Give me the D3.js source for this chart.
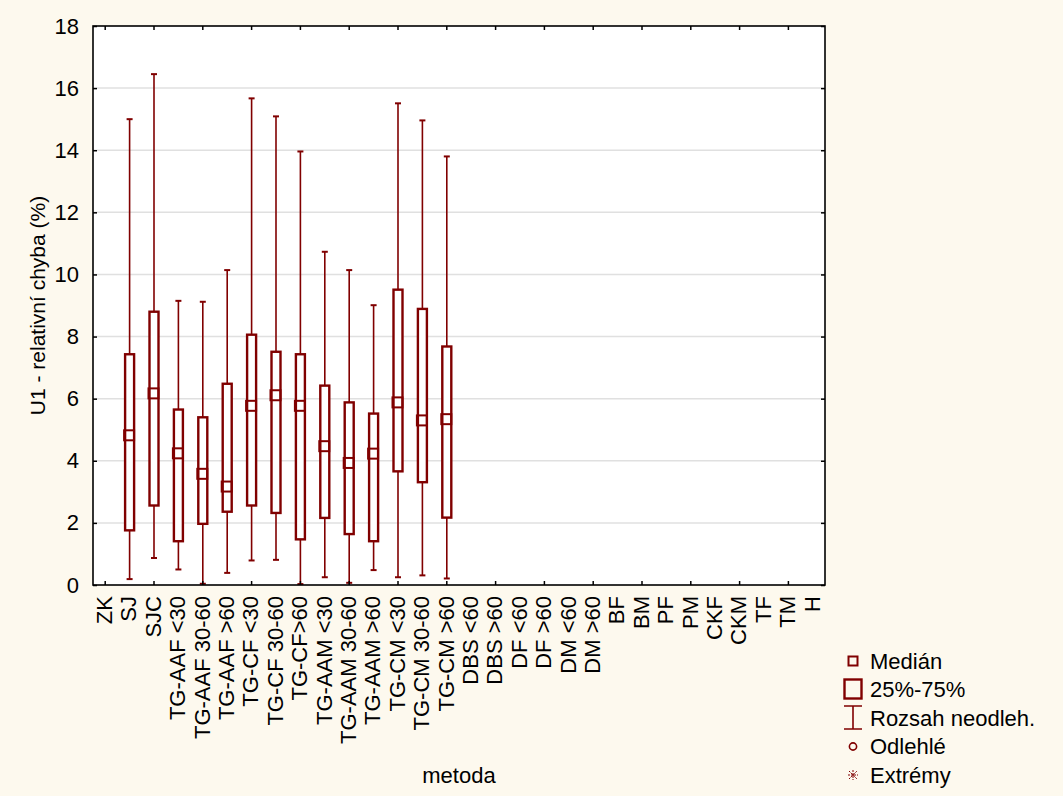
<!DOCTYPE html>
<html>
<head>
<meta charset="utf-8">
<script src="https://cdn.jsdelivr.net/npm/d3@7"></script>
<style>
  html, body { margin: 0; padding: 0; background: #fdf9ee; }
  svg { display: block; }
  text { font-family: "Liberation Sans", Arial, sans-serif; fill: #000; }
</style>
</head>
<body>
<svg id="chart" width="1063" height="796"></svg>
<script>
// Methods on the category axis
const categories = [
  "ZK", "SJ", "SJC",
  "TG-AAF <30", "TG-AAF 30-60", "TG-AAF >60",
  "TG-CF <30", "TG-CF 30-60", "TG-CF>60",
  "TG-AAM <30", "TG-AAM 30-60", "TG-AAM >60",
  "TG-CM <30", "TG-CM 30-60", "TG-CM >60",
  "DBS <60", "DBS >60", "DF <60", "DF >60", "DM <60", "DM >60",
  "BF", "BM", "PF", "PM", "CKF", "CKM", "TF", "TM", "H"
];

// Box statistics per method (null = no data)
const rangeLow  = [null, 0.19, 0.87, 0.50, 0.04, 0.39, 0.79, 0.81, 0.03, 0.25, 0.07, 0.48, 0.25, 0.31, 0.21];
const quart25   = [null, 1.76, 2.56, 1.41, 1.97, 2.36, 2.56, 2.32, 1.47, 2.16, 1.64, 1.41, 3.66, 3.31, 2.17];
const medians   = [null, 4.82, 6.17, 4.24, 3.58, 3.17, 5.77, 6.11, 5.77, 4.47, 3.93, 4.23, 5.88, 5.30, 5.34];
const quart75   = [null, 7.43, 8.80, 5.65, 5.40, 6.48, 8.06, 7.51, 7.43, 6.42, 5.88, 5.52, 9.51, 8.89, 7.68];
const rangeHigh = [null, 15.00, 16.45, 9.15, 9.12, 10.14, 15.67, 15.09, 13.96, 10.73, 10.14, 9.01, 15.51, 14.96, 13.80];

const yTicks = [0, 2, 4, 6, 8, 10, 12, 14, 16, 18];
const legendItems = ["Medián", "25%-75%", "Rozsah neodleh.", "Odlehlé", "Extrémy"];

const RED = "#800000";
const FONT = "22px";
const svg = d3.select("#chart");
const plot = { left: 93, right: 825, top: 26, bottom: 585 };

const x = d3.scaleBand().domain(categories).range([plot.left, plot.right]);
const y = d3.scaleLinear().domain([0, 18]).range([plot.bottom, plot.top]);

const rows = categories.map((c, i) => ({
  cat: c,
  lo: rangeLow[i], q1: quart25[i], med: medians[i], q3: quart75[i], hi: rangeHigh[i]
})).filter(d => d.med != null);

// plot background
svg.append("rect")
  .attr("x", plot.left).attr("y", plot.top)
  .attr("width", plot.right - plot.left).attr("height", plot.bottom - plot.top)
  .attr("fill", "#fff");

// horizontal gridlines
svg.append("g").selectAll("line")
  .data(yTicks.filter(t => t > 0 && t < 18))
  .join("line")
  .attr("x1", plot.left).attr("x2", plot.right)
  .attr("y1", d => y(d)).attr("y2", d => y(d))
  .attr("stroke", "#e0e0e0").attr("stroke-width", 1.5);

// boxes
const cx = d => x(d.cat) + x.bandwidth() / 2;
const g = svg.append("g");
g.selectAll(".whisker").data(rows).join("line")
  .attr("x1", cx).attr("x2", cx)
  .attr("y1", d => y(d.lo)).attr("y2", d => y(d.hi))
  .attr("stroke", RED).attr("stroke-width", 1.6);
g.selectAll(".capTop").data(rows).join("line")
  .attr("x1", d => cx(d) - 3).attr("x2", d => cx(d) + 3)
  .attr("y1", d => y(d.hi)).attr("y2", d => y(d.hi))
  .attr("stroke", RED).attr("stroke-width", 2);
g.selectAll(".capBot").data(rows).join("line")
  .attr("x1", d => cx(d) - 3).attr("x2", d => cx(d) + 3)
  .attr("y1", d => y(d.lo)).attr("y2", d => y(d.lo))
  .attr("stroke", RED).attr("stroke-width", 2);
g.selectAll(".box").data(rows).join("rect")
  .attr("x", d => cx(d) - 4.5).attr("width", 9)
  .attr("y", d => y(d.q3)).attr("height", d => y(d.q1) - y(d.q3))
  .attr("fill", "#fff").attr("stroke", RED).attr("stroke-width", 2.4);
g.selectAll(".med").data(rows).join("rect")
  .attr("x", d => cx(d) - 5.5).attr("width", 10)
  .attr("y", d => y(d.med) - 5).attr("height", 10)
  .attr("fill", "none").attr("stroke", RED).attr("stroke-width", 2);

// frame
svg.append("rect")
  .attr("x", plot.left).attr("y", plot.top)
  .attr("width", plot.right - plot.left).attr("height", plot.bottom - plot.top)
  .attr("fill", "none").attr("stroke", "#000").attr("stroke-width", 1.6);

// y axes (inward ticks on both sides)
const yAxisL = d3.axisLeft(y).tickValues(yTicks).tickSize(-4).tickPadding(14);
const gl = svg.append("g").attr("transform", `translate(${plot.left},0)`).call(yAxisL);
gl.select(".domain").remove();
gl.selectAll(".tick line").attr("stroke", "#000").attr("stroke-width", 1.5);
gl.selectAll(".tick text").style("font-size", FONT).attr("font-family", null);

const yAxisR = d3.axisRight(y).tickValues(yTicks).tickSize(-4).tickFormat("");
const gr = svg.append("g").attr("transform", `translate(${plot.right},0)`).call(yAxisR);
gr.select(".domain").remove();
gr.selectAll(".tick line").attr("stroke", "#000").attr("stroke-width", 1.5);

// x axes: ticks on every other category
const xTickCats = categories.filter((c, i) => i % 2 === 0);
const xAxisB = d3.axisBottom(x).tickValues(xTickCats).tickSize(-4).tickFormat("");
const gb = svg.append("g").attr("transform", `translate(0,${plot.bottom})`).call(xAxisB);
gb.select(".domain").remove();
gb.selectAll(".tick line").attr("stroke", "#000").attr("stroke-width", 1.5);
const xAxisT = d3.axisTop(x).tickValues(xTickCats).tickSize(-4).tickFormat("");
const gt = svg.append("g").attr("transform", `translate(0,${plot.top})`).call(xAxisT);
gt.select(".domain").remove();
gt.selectAll(".tick line").attr("stroke", "#000").attr("stroke-width", 1.5);

// rotated category labels
svg.append("g").selectAll("text").data(categories).join("text")
  .attr("transform", d => `translate(${x(d) + x.bandwidth() / 2 - 1},${plot.bottom + 11}) rotate(-90)`)
  .attr("text-anchor", "end")
  .attr("dy", "0.35em")
  .style("font-size", FONT)
  .text(d => d);

// axis titles
svg.append("text")
  .attr("transform", `translate(38,${(plot.top + plot.bottom) / 2}) rotate(-90)`)
  .attr("text-anchor", "middle").attr("dy", "0.35em")
  .style("font-size", "21px")
  .text("U1 - relativní chyba (%)");
svg.append("text")
  .attr("x", (plot.left + plot.right) / 2).attr("y", 783)
  .attr("text-anchor", "middle")
  .style("font-size", FONT)
  .text("metoda");

// legend
const lg = svg.append("g").attr("transform", "translate(853,0)");
const ly = d3.scalePoint().domain(legendItems).range([661, 775]);
lg.selectAll("text").data(legendItems).join("text")
  .attr("x", 17).attr("y", d => ly(d)).attr("dy", "0.35em")
  .style("font-size", FONT)
  .text(d => d);
// median symbol
lg.append("rect").attr("x", -4.5).attr("y", ly("Medián") - 4.5).attr("width", 9).attr("height", 9)
  .attr("fill", "none").attr("stroke", RED).attr("stroke-width", 2);
// quartile box symbol
lg.append("rect").attr("x", -8.5).attr("y", ly("25%-75%") - 10).attr("width", 17).attr("height", 19)
  .attr("fill", "none").attr("stroke", RED).attr("stroke-width", 2.4);
// range symbol
const ry = ly("Rozsah neodleh.");
lg.append("path")
  .attr("d", `M-9,${ry - 12}H9M0,${ry - 12}V${ry + 11}M-9,${ry + 11}H9`)
  .attr("fill", "none").attr("stroke", RED).attr("stroke-width", 1.6);
// outlier symbol
lg.append("circle").attr("cx", 0).attr("cy", ly("Odlehlé")).attr("r", 3.6)
  .attr("fill", "none").attr("stroke", RED).attr("stroke-width", 1.6);
// extreme symbol
const ey = ly("Extrémy");
lg.append("path")
  .attr("d", `M-5,${ey}H5M0,${ey - 5}V${ey + 5}M-4,${ey - 4}L4,${ey + 4}M-4,${ey + 4}L4,${ey - 4}`)
  .attr("fill", "none").attr("stroke", RED).attr("stroke-width", 1)
  .attr("stroke-dasharray", "2,1");
</script>
</body>
</html>
